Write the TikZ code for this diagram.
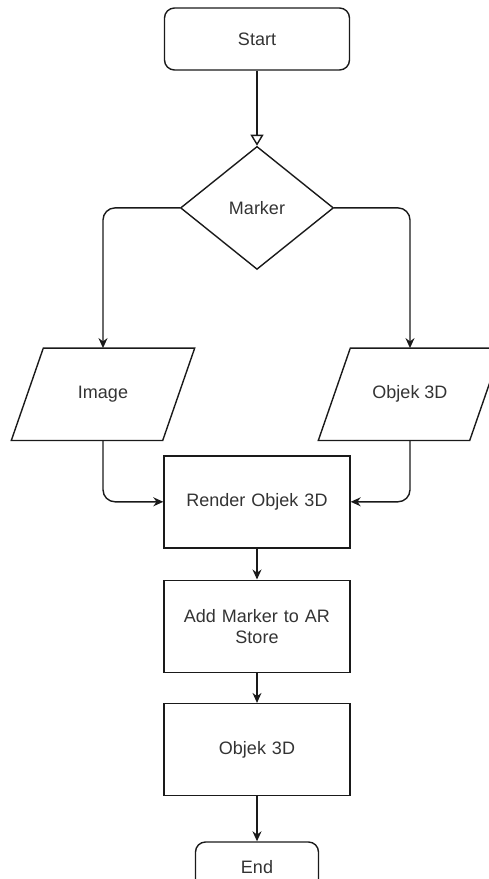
\documentclass[tikz,border=0pt]{standalone}
\usepackage{fontspec}
\setmainfont{Liberation Sans}
\usetikzlibrary{positioning, shapes.geometric, arrows.meta}
\definecolor{linegray}{HTML}{1A1A1A}
\definecolor{textgray}{HTML}{333333}

\begin{document}
\begin{tikzpicture}[
            font=\fontsize{18pt}{21pt}\selectfont,
            outline/.style={draw=linegray, line width=1.4pt},
            terminal/.style={rectangle, outline, rounded corners=10pt,
                        minimum width=185pt, minimum height=62pt, text=textgray},
            process/.style={rectangle, outline, text width=172pt, align=center,
                        minimum width=186pt, minimum height=92pt, text=textgray},
            decision/.style={diamond, outline, aspect=1.25, inner sep=0pt,
                        minimum width=153pt, minimum height=123pt, text=textgray},
            % slanted input box, drawn round a plain rectangle
            io/.style={rectangle, inner sep=0pt, minimum width=151pt, minimum height=92pt,
                        text=textgray,
                        append after command={\pgfextra{
                            \draw[outline] ([xshift=-16pt]\tikzlastnode.south west)
                                -- ([xshift=16pt]\tikzlastnode.north west)
                                -- ([xshift=16pt]\tikzlastnode.north east)
                                -- ([xshift=-16pt]\tikzlastnode.south east) -- cycle;}}},
            arrow/.style={-{Stealth[length=10pt, width=9pt]}, line width=1.4pt, color=linegray}
        ]
            \useasboundingbox (0,0) rectangle (489pt,-879pt);

            \node[terminal] (start) at (257pt,-39pt) {Start};
            \node[decision, below=75pt of start] (marker) {Marker};
            \node[io, below=78pt of marker, xshift=-154pt] (image) {Image};
            \node[io, below=78pt of marker, xshift=153pt] (objek) {Objek 3D};
            \node[process, below=185pt of marker] (render) {Render Objek 3D};
            \node[process, below=31pt of render] (store) {Add Marker to AR\\Store};
            \node[process, below=30pt of store] (result) {Objek 3D};
            \node[terminal, below=45pt of result, minimum width=123pt, minimum height=50pt] (end) {End};

            \draw[-{Triangle[open, length=11pt, width=13pt]}, line width=1.4pt, color=linegray] (start) -- (marker);
            \draw[arrow, rounded corners=12pt] (marker.west) -| (image.north);
            \draw[arrow, rounded corners=12pt] (marker.east) -| (objek.north);
            \draw[arrow, rounded corners=12pt] (image.south) |- (render.west);
            \draw[arrow, rounded corners=12pt] (objek.south) |- (render.east);
            \draw[arrow] (render) -- (store);
            \draw[arrow] (store) -- (result);
            \draw[arrow] (result) -- (end);
        \end{tikzpicture}
\end{document}
